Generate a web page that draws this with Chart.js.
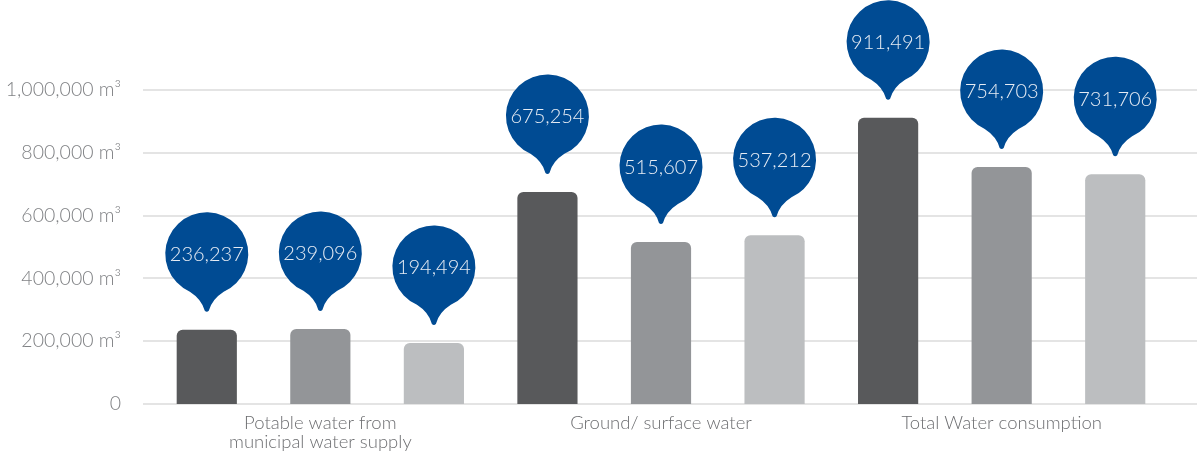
<!DOCTYPE html>
<html>
<head>
<meta charset="utf-8">
<script src="https://cdn.jsdelivr.net/npm/chart.js@4"></script>
<style>
  html, body { margin: 0; padding: 0; background: #fff; }
  #wrap { width: 1197px; height: 452px; position: relative; }
</style>
</head>
<body>
<div id="wrap"><canvas id="chart"></canvas></div>
<script>
// data
const categories = [
    ["Potable water from", "municipal water supply"],
    "Ground/ surface water",
    "Total Water consumption"
];
const series1 = [236237, 675254, 911491];
const series2 = [239096, 515607, 754703];
const series3 = [194494, 537212, 731706];
const yTicks = [0, 200000, 400000, 600000, 800000, 1000000];

const barColors = ['#58595b', '#939598', '#bcbec0'];
const pinColor = '#004b93';
const font = 'Lato';

// light grid lines, running past the plot on both sides
const gridPlugin = {
    id: 'grid',
    beforeDatasetsDraw(chart) {
        const ctx = chart.ctx;
        const y = chart.scales.y;
        ctx.save();
        ctx.strokeStyle = '#e4e4e4';
        ctx.lineWidth = 2;
        yTicks.forEach(t => {
            const py = Math.round(y.getPixelForValue(t));
            ctx.beginPath();
            ctx.moveTo(chart.chartArea.left - 7, py);
            ctx.lineTo(chart.width, py);
            ctx.stroke();
        });
        ctx.restore();
    }
};

// blue map pins holding the value above each bar
const pinPlugin = {
    id: 'pins',
    afterDatasetsDraw(chart) {
        const ctx = chart.ctx;
        const r = 41.5, a = 0.42;
        chart.data.datasets.forEach((ds, i) => {
            chart.getDatasetMeta(i).data.forEach((bar, j) => {
                const cx = bar.x;
                const tipY = bar.y - 18;
                const cy = tipY - 58;
                const sx = r * Math.sin(a), sy = r * Math.cos(a);
                ctx.save();
                ctx.fillStyle = pinColor;
                ctx.beginPath();
                ctx.arc(cx, cy, r, Math.PI / 2 + a, Math.PI / 2 - a + Math.PI * 2, false);
                ctx.quadraticCurveTo(cx + 5, cy + r + 4, cx + 2, tipY - 1);
                ctx.quadraticCurveTo(cx, tipY + 1, cx - 2, tipY - 1);
                ctx.quadraticCurveTo(cx - 5, cy + r + 4, cx - sx, cy + sy);
                ctx.closePath();
                ctx.fill();
                ctx.fillStyle = '#e6ecf4';
                ctx.font = '300 20px ' + font;
                ctx.textAlign = 'center';
                ctx.textBaseline = 'middle';
                ctx.fillText(ds.data[j].toLocaleString('en-US'), cx, cy + 1);
                ctx.restore();
            });
        });
    }
};

new Chart(document.getElementById('chart'), {
    type: 'bar',
    data: {
        labels: categories,
        datasets: [
            { data: series1, backgroundColor: barColors[0] },
            { data: series2, backgroundColor: barColors[1] },
            { data: series3, backgroundColor: barColors[2] }
        ]
    },
    options: {
        responsive: true,
        maintainAspectRatio: false,
        animation: false,
        events: [],
        layout: { padding: { top: 90, right: 25, left: 0, bottom: 0 } },
        datasets: {
            bar: {
                categoryPercentage: 1,
                barPercentage: 0.53,
                borderSkipped: 'bottom',
                borderRadius: 6
            }
        },
        plugins: {
            legend: { display: false },
            tooltip: { enabled: false }
        },
        scales: {
            x: {
                afterFit(scale) { scale.height = 48; },
                grid: { display: false },
                border: { display: false },
                ticks: {
                    color: '#6d6e71',
                    font: { family: font, size: 18.5, weight: 300, lineHeight: 1.0 },
                    padding: 2,
                    maxRotation: 0
                }
            },
            y: {
                min: 0,
                max: 1000000,
                afterFit(scale) { scale.width = 150; },
                afterBuildTicks(scale) { scale.ticks = yTicks.map(v => ({ value: v })); },
                grid: { display: false },
                border: { display: false },
                ticks: {
                    color: '#808285',
                    font: { family: font, size: 19.5, weight: 300 },
                    padding: 21,
                    callback: v => v === 0 ? '0' : v.toLocaleString('en-US') + ' m³'
                }
            }
        }
    },
    plugins: [gridPlugin, pinPlugin]
});
</script>
</body>
</html>
